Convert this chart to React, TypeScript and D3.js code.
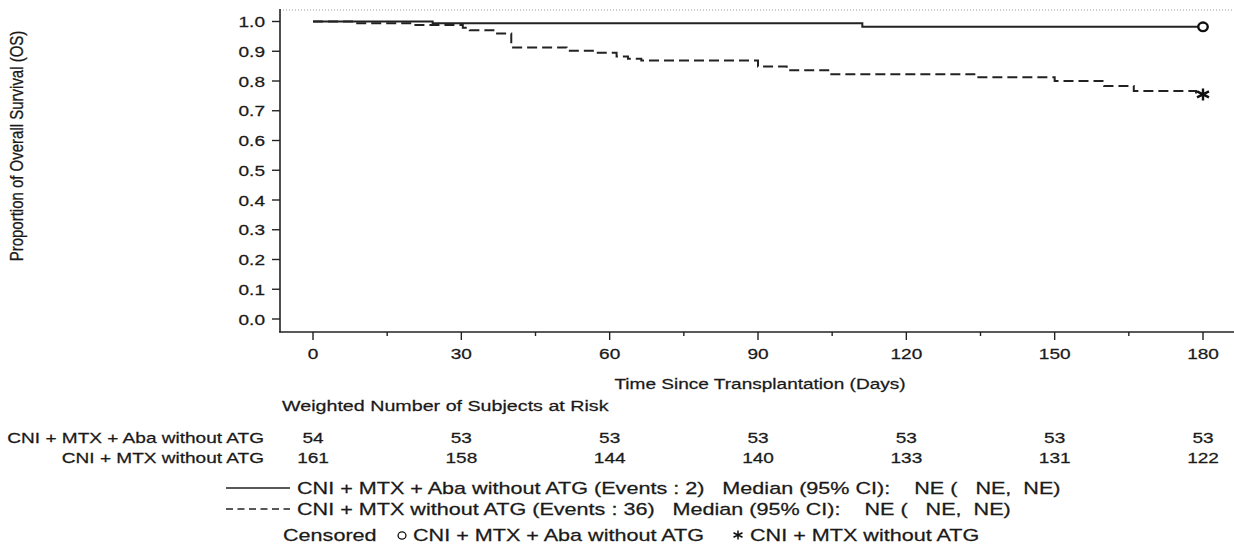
import React, { useEffect, useRef } from 'react';
import * as d3 from 'd3';

// Kaplan-Meier steps (day, proportion surviving)
const abaTimes = [0, 24.2, 111.1, 180];
const abaSurv = [1.0, 0.994, 0.982, 0.982];

const mtxTimes = [0, 8.3, 20, 30.3, 31.7, 37, 40.1, 51.3, 56.6, 61.4, 63.7, 66.4, 90, 95.8, 104.6, 134, 150, 160, 166, 178.6, 180];
const mtxSurv = [1.0, 0.994, 0.988, 0.979, 0.971, 0.96, 0.913, 0.902, 0.895, 0.882, 0.875, 0.869, 0.849, 0.836, 0.823, 0.813, 0.8, 0.783, 0.766, 0.755, 0.755];

const xTicks = [0, 30, 60, 90, 120, 150, 180];
const xMinorTicks = [15, 45, 75, 105, 135, 165];
const yTicks = [0, 0.1, 0.2, 0.3, 0.4, 0.5, 0.6, 0.7, 0.8, 0.9, 1.0];

const groupNames = ['CNI + MTX + Aba without ATG', 'CNI + MTX without ATG'];
const atRiskAba = [54, 53, 53, 53, 53, 53, 53];
const atRiskMtx = [161, 158, 144, 140, 133, 131, 122];
const events = [2, 36];

const FONT = 'Arial, "Liberation Sans", sans-serif';
const SX = 1.27; // the source picture is stretched sideways
const INK = '#1a1a1a';

const App = () => {
  const svgRef = useRef<SVGSVGElement>(null);

  useEffect(() => {
    const svg = d3.select(svgRef.current);
    svg.selectAll('*').remove();

    const x = d3.scaleLinear().domain([0, 180]).range([313, 1203]);
    const y = d3.scaleLinear().domain([0, 1]).range([319, 21.5]);

    const text = (tx: number, ty: number, s: string, anchor = 'start', size = 15) =>
      svg.append('text')
        .attr('transform', `translate(${tx},${ty}) scale(${SX},1)`)
        .attr('text-anchor', anchor)
        .attr('font-family', FONT)
        .attr('font-size', size)
        .attr('fill', INK)
        .attr('stroke', INK)
        .attr('stroke-width', 0.25)
        .style('white-space', 'pre')
        .text(s);

    // top reference line (dotted)
    svg.append('line')
      .attr('x1', 280).attr('x2', 1234).attr('y1', 10).attr('y2', 10)
      .attr('stroke', '#999').attr('stroke-dasharray', '1,2');

    // y axis
    svg.append('line')
      .attr('x1', 280).attr('x2', 280).attr('y1', 9).attr('y2', 332.5)
      .attr('stroke', '#222').attr('stroke-width', 1.6);
    yTicks.forEach(t => {
      svg.append('line')
        .attr('x1', 272).attr('x2', 280).attr('y1', y(t)).attr('y2', y(t))
        .attr('stroke', '#222').attr('stroke-width', 1.4);
      text(265, y(t) + 5.5, d3.format('.1f')(t), 'end');
    });

    // x axis
    svg.append('line')
      .attr('x1', 279.2).attr('x2', 1234).attr('y1', 332).attr('y2', 332)
      .attr('stroke', '#222').attr('stroke-width', 1.6);
    xTicks.forEach(t => {
      svg.append('line')
        .attr('x1', x(t)).attr('x2', x(t)).attr('y1', 332).attr('y2', 340)
        .attr('stroke', '#222').attr('stroke-width', 1.4);
      text(x(t), 359, String(t), 'middle');
    });
    xMinorTicks.forEach(t => {
      svg.append('line')
        .attr('x1', x(t)).attr('x2', x(t)).attr('y1', 332).attr('y2', 336)
        .attr('stroke', '#222').attr('stroke-width', 1.4);
    });

    text(760, 389, 'Time Since Transplantation (Days)', 'middle');

    svg.append('text')
      .attr('transform', `translate(23,146) scale(${SX},1) rotate(-90)`)
      .attr('text-anchor', 'middle')
      .attr('font-family', FONT)
      .attr('font-size', 15)
      .attr('fill', INK)
      .attr('stroke', INK)
      .attr('stroke-width', 0.25)
      .text('Proportion of Overall Survival (OS)');

    // survival curves
    const line = d3.line<[number, number]>()
      .x(d => x(d[0]))
      .y(d => y(d[1]))
      .curve(d3.curveStepAfter);

    const abaPts = abaTimes.map((t, i) => [t, abaSurv[i]] as [number, number]);
    const mtxPts = mtxTimes.map((t, i) => [t, mtxSurv[i]] as [number, number]);

    svg.append('path')
      .attr('d', line(abaPts))
      .attr('fill', 'none').attr('stroke', '#222').attr('stroke-width', 2);
    svg.append('path')
      .attr('d', line(mtxPts))
      .attr('fill', 'none').attr('stroke', '#222').attr('stroke-width', 2)
      .attr('stroke-dasharray', '10,5');

    // censor marks
    const circleMark = (cx: number, cy: number, r: number, w: number) =>
      svg.append('ellipse')
        .attr('cx', cx).attr('cy', cy)
        .attr('rx', r * 1.1).attr('ry', r)
        .attr('fill', 'white').attr('stroke', '#111').attr('stroke-width', w);

    const starMark = (cx: number, cy: number, r: number, w: number) => {
      const p = d3.path();
      [90, 30, 150].forEach(a => {
        const rad = (a * Math.PI) / 180;
        p.moveTo(cx - r * 1.15 * Math.cos(rad), cy - r * Math.sin(rad));
        p.lineTo(cx + r * 1.15 * Math.cos(rad), cy + r * Math.sin(rad));
      });
      svg.append('path').attr('d', p.toString())
        .attr('stroke', '#111').attr('stroke-width', w).attr('fill', 'none');
    };

    circleMark(x(180), y(abaSurv[abaSurv.length - 1]), 4.3, 2.4);
    starMark(x(180), y(mtxSurv[mtxSurv.length - 1]), 6, 2.4);

    // at-risk table
    text(282, 411, 'Weighted Number of Subjects at Risk', 'start', 15.5);
    text(264, 443, groupNames[0], 'end');
    text(264, 463, groupNames[1], 'end');
    xTicks.forEach((t, i) => {
      text(x(t), 443, String(atRiskAba[i]), 'middle');
      text(x(t), 463, String(atRiskMtx[i]), 'middle');
    });

    // legend
    const LF = 17;
    const legY = [488, 509];
    svg.append('line')
      .attr('x1', 226).attr('x2', 290).attr('y1', legY[0]).attr('y2', legY[0])
      .attr('stroke', '#222').attr('stroke-width', 1.4);
    svg.append('line')
      .attr('x1', 226).attr('x2', 290).attr('y1', legY[1]).attr('y2', legY[1])
      .attr('stroke', '#222').attr('stroke-width', 1.4).attr('stroke-dasharray', '7,4.5');
    groupNames.forEach((g, i) => {
      text(297, legY[i] + 6, `${g} (Events : ${events[i]})   Median (95% CI):    NE (   NE,  NE)`, 'start', LF);
    });

    const cY = 535;
    text(283, cY + 6, 'Censored', 'start', LF);
    circleMark(402, cY + 0.5, 3.6, 1.3);
    text(413, cY + 6, groupNames[0], 'start', LF);
    starMark(738, cY, 4.5, 1.5);
    text(750, cY + 6, groupNames[1], 'start', LF);
  });

  return (
    <svg ref={svgRef} width={1234} height={560}
      style={{ display: 'block', position: 'absolute', left: 0, top: 0, background: 'white' }} />
  );
};

export default App;
